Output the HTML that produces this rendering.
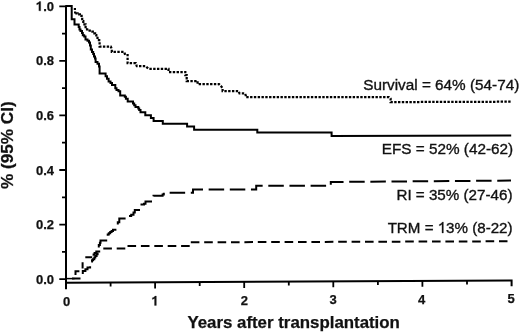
<!DOCTYPE html>
<html>
<head>
<meta charset="utf-8">
<style>
html,body{margin:0;padding:0;background:#fff;}
body{width:520px;height:332px;overflow:hidden;}
svg{display:block;-webkit-font-smoothing:antialiased;will-change:transform;}
text{font-family:"Liberation Sans",sans-serif;fill:#111;}
.b{font-weight:bold;stroke:#111;stroke-width:0.25px;}
</style>
</head>
<body>
<svg width="520" height="332" viewBox="0 0 520 332">
<rect x="0" y="0" width="520" height="332" fill="#fff"/>
<g stroke="#000" fill="none" stroke-width="2">
<!-- y axis -->
<path d="M66,5.3 V289.3"/>
<!-- x axis (slightly tilted as in scan) -->
<path d="M66,282.8 L511.6,280.4 V286.3"/>
<!-- y ticks major -->
<path d="M59.3,6.3 H66 M59.3,60.9 H66 M59.3,115.4 H66 M59.3,170 H66 M59.3,224.6 H66 M59.3,279.2 H66" stroke-width="1.8"/>
<!-- y ticks minor -->
<path d="M62,33.6 H66 M62,88.2 H66 M62,142.7 H66 M62,197.3 H66 M62,251.9 H66" stroke-width="1.8"/>
<!-- x ticks major -->
<path d="M155.1,282 V288.5 M244.2,281.5 V288 M333.3,281 V287.3 M422.4,280.6 V286.8" stroke-width="1.8"/>
<!-- x ticks minor -->
<path d="M110.6,282.4 V286.4 M199.7,282 V286 M288.8,281.5 V285.5 M377.9,281 V285 M467,280.6 V284.5" stroke-width="1.8"/>
</g>

<!-- y tick labels -->
<g class="b" font-size="13" text-anchor="end">
<text x="54" y="10.8"><tspan id="one1" style="fill:none;stroke:none">1</tspan>.0</text>
<text x="54" y="65.3">0.8</text>
<text x="54" y="119.9">0.6</text>
<text x="54" y="174.5">0.4</text>
<text x="54" y="229.1">0.2</text>
<text x="54" y="283.7">0.0</text>
</g>
<!-- x tick labels -->
<g class="b" font-size="13" text-anchor="middle">
<text x="66.6" y="305.9">0</text>
<text x="155.2" y="305.4" id="one2" style="fill:none;stroke:none">1</text>
<text x="244.3" y="304.6">2</text>
<text x="333" y="303.9">3</text>
<text x="421.6" y="303.7">4</text>
<text x="511.2" y="303.2">5</text>
</g>
<!-- axis titles -->
<text class="b" font-size="16.85" x="187.4" y="327.7">Years after transplantation</text>
<text class="b" font-size="17.2" transform="translate(12.6,189.1) rotate(-90)">% (95% CI)</text>

<!-- legend labels -->
<g text-anchor="end" stroke="#111" stroke-width="0.35">
<text x="519.3" y="90.4" font-size="15.3">Survival = 64% (54-74)</text>
<text x="513.2" y="153.8" font-size="15.3">EFS = 52% (42-62)</text>
<text x="512.5" y="199.8" font-size="15.2">RI = 35% (27-46)</text>
<text x="512.6" y="232.9" font-size="15.15">TRM = <tspan id="one3" style="fill:none;stroke:none">1</tspan>3% (8-22)</text>
</g>

<!-- Arial-style "1" glyphs -->
<path d="M40.69,10.80 40.69,1.49 39.30,1.49 38.78,2.22 37.74,2.87 36.70,3.26 36.70,4.82 37.74,4.43 38.87,3.78 38.87,10.80Z M156.35,305.40 156.35,296.09 154.96,296.09 154.44,296.82 153.40,297.47 152.36,297.86 152.36,299.42 153.40,299.03 154.53,298.38 154.53,305.40Z" fill="#111" stroke="#111" stroke-width="0.25"/>
<path d="M443.34,232.90 443.34,222.05 442.48,222.05 441.93,222.83 440.72,223.81 439.34,224.49 439.34,225.78 440.72,225.17 442.01,224.34 442.01,232.90Z" fill="#111" stroke="#111" stroke-width="0.35"/>
<g fill="none" stroke="#000" stroke-width="2" stroke-linejoin="miter" stroke-linecap="butt">
<!-- EFS solid -->
<path d="M66,5.9 H71.7 V19.2 H74.5 V24.4 H78.7 V27 H79.5 V29.5 H80.5 V31 H82 V33 H82.8 V35.2 H84.2 V36.5 H85.5 V39.5 H87.5 V40.8 H89 V42.5 H90 V45.5 H90.8 V49.5 H92 V52 H93.2 V54 H94 V56.5 H95 V58.5 H95.6 V62 H97.5 V63.8 H99 V66.5 H99.6 V73.6 H105.6 V76.3 H107 V78.7 H108.6 V81.4 H110.5 V83 H112 V85.1 H115.3 V88.2 H116.5 V90.1 H118.5 V91.3 H120.2 V95.6 H124.8 V96.8 H125.9 V98.8 H127.7 V101.5 H133 V103.5 H134.2 V105.2 H135.5 V107 H138.3 V108.5 H139.2 V110 H140.5 V112.3 H145.3 V115.3 H150.9 V117.9 H153.6 V120.9 H162.8 V123.8 H187.1 V126.5 H194.1 V129.7 H257.3 V132.5 H331.6 V136 L511.2,135.4"/>
<!-- Survival dotted -->
<path stroke-width="2.2" d="M74.9,7.9 V10.1 M75.1,11.5 V13.6"/>
<path stroke-dasharray="2.4 1.4" stroke-dashoffset="3.5" stroke-width="2.25" d="M75,13.3 H77.6 V14.3 H79.9 V15.9 H81.6 V17.3 H82.2 V21 H83.3 V24.3 H85.6 V29.3 H88.5 V30.5 H91 V31.5 H92.8 V33.3 H95.1 V35 H96.3 V37.8 H97.5 V40.2 H99.2 V42 H99.6 V46.5 H110.8 L111.8,49.3 V51.9 H124.2 L125.2,55 H127.6 V63.2 H135.8 L136.8,66.1 H145.5 L146.6,67.1 L148.5,68.8 H168.5 V72 H185.3 V75 H186.7 V81 H197.6 V84.1 H219 L221.3,86.5 L222.6,88 V91 H238.6 L239.5,93.3 H244.8 L245.8,95.5 V97.2 H389 L390.6,98.5 V102.1 L511,101.7"/>
<!-- RI long dash: explicit dashes in rising part -->
<path d="M72,278.6 H80.5
M82.8,274 V271 H85.4 V269.2 H87.5 V267.4 H90.1 V266.2
M91.2,261.6 H92 V260.2 H93 V259.2 H94.3 V257.5 H95.3 V255.9 H96.6 V254.3 H97.6 V252.6
M98.8,247.6 V245 H99.9 V242.7 H100.5 V240.6 H107.2
M107.7,235.8 V234.5 H108.8 V233.2 H110.2 V232 H111.6 V230.9 H113 V229.7 H116.4
M117.8,224.5 V222.3 H119.3 V218.6 H125.6
M129,216 H131.2 V214.8 H133.5 V212.5 H134.8 V210.1 H140
M140.5,204.6 H144 V203.8 H145.5 V201.6 H152
M153.5,196.3 V195.8 H162.6 V194.5 H163.8 V192.7"/>
<path stroke-dasharray="15.5 5.65" stroke-dashoffset="15.5" d="M164,192.8 H193 V189.5 H256.2 V185.7 H330.8 V182 L511,180.6"/>
<!-- TRM short dash: explicit dashes in rising part -->
<path d="M66,278.6 H74.5" stroke-width="1.5"/>
<path d="M75.5,275 V271.2 H79.4
M82.6,268.6 V262.3
M85.3,257.2 H92.2
M93.6,255.8 V254.5 H94.6 V253 H96.3 V251.6 H100.2"/>
<path stroke-dasharray="8.6 4.8" d="M103.3,248.6 H127.2 V246 H190.4 V242.3 L507.5,241.3"/>
</g>
</svg>
</body>
</html>
